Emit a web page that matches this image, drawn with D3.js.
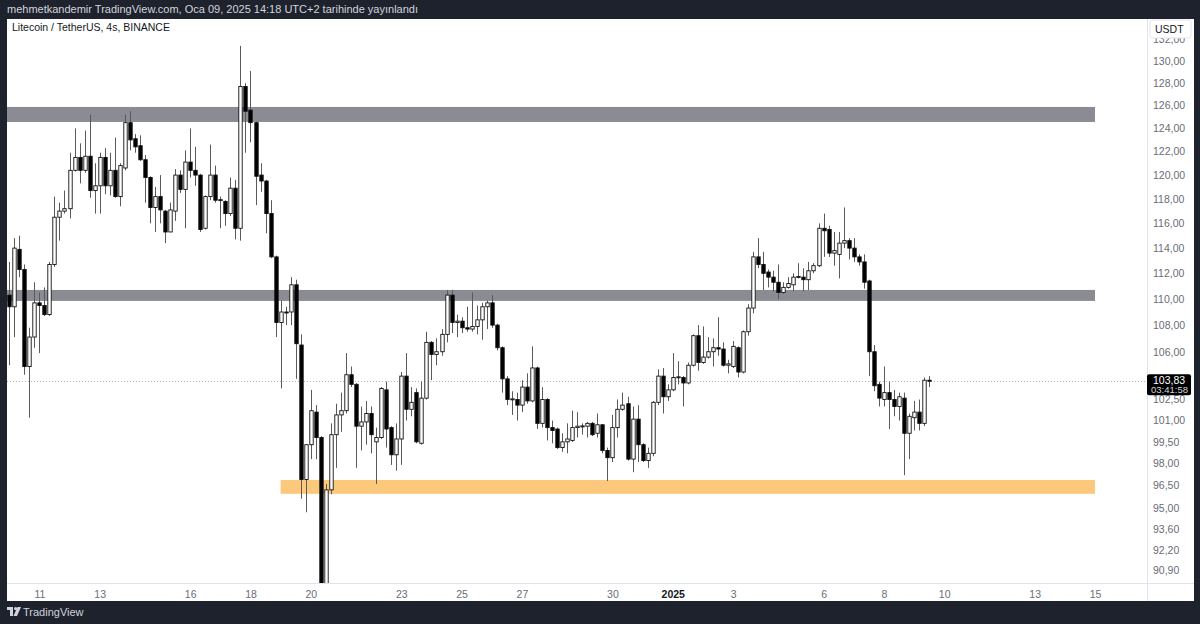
<!DOCTYPE html>
<html><head><meta charset="utf-8">
<script src="https://cdn.jsdelivr.net/npm/d3@7"></script>
<style>
body{margin:0;background:#1e222d;overflow:hidden}
svg{display:block;font-family:"Liberation Sans",Arial,sans-serif}
</style>
</head><body><svg id="c" width="1200" height="624"></svg>
<script>
// ---- data (LTC/USDT 4h, Binance) ----
const headerText = "mehmetkandemir TradingView.com, Oca 09, 2025 14:18 UTC+2 tarihinde yayınlandı";
const titleText = "Litecoin / TetherUS, 4s, BINANCE";
const firstCandleUTC = Date.UTC(2024, 11, 10, 0, 0);
const candleHours = 4;
const openP = [110.3,109.4,113.9,112.3,104.9,107.1,109.7,109.5,108.8,112.7,116.5,117.0,117.2,120.4,121.5,120.4,121.6,118.7,119.1,121.5,119.1,120.4,118.2,120.6,124.5,123.1,122.5,121.3,119.8,117.3,118.2,117.0,115.3,117.0,120.0,118.8,121.1,120.4,120.0,115.6,118.2,120.0,117.9,117.8,116.8,118.9,115.6,127.7,125.6,124.5,120.0,119.5,116.8,113.3,108.2,109.0,109.0,111.1,106.5,96.9,99.3,101.6,99.8,88.7,96.2,100.0,101.4,101.7,104.3,103.6,100.6,100.9,101.5,99.5,99.8,103.2,100.5,98.6,99.7,104.2,101.8,103.0,99.4,102.6,106.7,105.8,106.0,107.3,110.3,108.2,108.3,107.8,107.7,107.9,108.4,109.4,109.7,108.0,106.3,104.0,102.5,102.5,102.1,103.4,102.4,104.8,100.8,102.5,100.5,100.4,99.1,99.5,99.6,100.5,100.6,100.6,100.8,100.1,100.7,98.9,98.4,100.5,101.8,102.2,98.3,101.1,99.3,98.2,98.7,102.3,104.2,102.7,103.2,104.1,104.1,103.7,105.0,107.2,105.2,105.6,106.0,106.3,106.2,105.0,104.9,106.3,104.5,107.5,109.3,113.3,112.7,112.1,111.7,111.3,110.5,110.9,111.1,111.7,111.7,111.5,112.2,112.6,115.6,115.5,113.6,113.5,114.4,114.6,114.0,113.3,112.9,111.4,106.0,103.6,102.5,103.0,102.5,102.0,102.6,100.1,101.2,101.6,100.8,103.9];
const highP = [112.9,114.8,115.0,112.7,107.8,111.3,110.5,110.9,112.9,118.2,117.7,118.7,121.9,124.0,122.7,123.8,125.2,121.0,121.9,122.3,121.9,123.2,121.0,125.2,125.5,123.5,123.4,121.7,119.9,119.0,120.0,117.1,117.7,120.5,120.4,122.1,124.0,122.4,120.1,118.3,122.6,120.8,118.2,117.9,119.8,119.6,131.4,128.0,129.1,124.6,121.0,119.6,117.9,113.4,109.9,109.4,111.7,111.5,107.3,99.35,103.2,102.1,99.9,96.6,100.8,102.2,103.0,105.9,104.9,103.7,102.0,102.4,102.0,100.5,103.4,103.8,100.6,100.8,104.5,105.9,103.4,103.3,103.8,107.5,106.8,107.0,107.7,110.7,110.7,108.8,108.6,109.4,110.5,109.5,109.7,109.9,110.3,108.1,106.4,104.2,103.1,103.0,103.9,104.4,106.4,104.9,103.4,102.6,101.0,100.5,100.1,100.8,101.7,101.6,100.8,100.9,100.9,101.5,100.75,99.1,101.4,102.5,103.0,102.7,102.0,102.1,99.4,99.1,102.4,104.7,104.8,103.6,105.9,105.3,104.2,105.2,107.3,108.0,107.9,107.1,107.0,108.6,106.7,105.4,106.8,106.4,107.6,109.6,113.7,114.8,113.7,112.3,112.2,112.7,111.3,111.7,112.0,112.8,112.4,112.9,112.8,116.0,116.8,115.8,115.3,115.3,117.3,114.8,114.8,113.5,113.5,111.5,106.5,103.8,104.9,103.8,103.2,103.0,103.0,101.5,102.4,102.5,104.1,104.2];
const lowP = [105.0,107.1,111.7,104.3,101.2,106.3,105.9,108.7,108.7,112.5,114.6,116.8,116.4,120.3,119.3,120.2,118.1,116.8,116.8,118.4,118.3,118.1,117.4,120.4,122.1,121.9,121.2,117.7,116.0,115.3,116.0,114.4,115.3,116.2,118.5,115.6,119.8,119.1,115.3,115.5,117.9,117.7,115.6,115.8,116.6,114.7,114.6,121.9,122.8,117.5,118.6,115.2,113.2,107.1,103.3,108.0,108.0,104.0,95.6,94.7,98.3,98.3,88.2,88.3,95.9,97.7,100.2,101.5,103.4,97.7,98.9,99.3,98.7,96.6,99.7,99.1,97.9,97.5,97.9,101.0,101.3,99.4,99.3,102.5,103.9,105.0,105.7,106.7,107.4,107.1,107.4,107.5,107.5,107.3,106.9,107.7,107.8,106.1,103.0,102.1,101.4,101.0,101.6,102.2,102.3,100.4,100.5,99.6,99.4,99.0,98.8,98.7,99.5,99.8,100.0,99.8,99.9,99.8,98.7,96.8,98.1,99.8,101.7,98.2,97.4,98.1,98.1,97.7,98.5,102.1,101.5,102.4,103.1,103.6,102.0,103.6,104.9,104.6,105.1,105.5,104.9,105.7,104.9,104.4,104.8,104.1,104.4,107.2,108.9,112.4,110.7,110.9,110.6,110.0,110.4,110.8,110.6,111.6,110.6,110.7,112.0,112.5,113.3,113.3,112.6,111.6,114.0,113.1,112.9,112.6,110.8,104.2,103.1,102.0,102.0,100.4,101.3,101.0,97.2,98.3,100.3,100.3,100.6,103.4];
const closeP = [109.4,114.0,112.3,104.9,107.1,109.7,109.5,108.8,112.7,116.5,117.0,117.2,120.4,121.5,120.4,121.6,118.7,119.1,121.5,119.1,120.4,118.2,120.8,124.5,123.0,122.4,121.3,119.8,117.3,118.2,117.1,115.3,117.1,120.0,118.8,121.1,120.4,120.0,115.5,118.2,120.0,117.9,117.95,116.8,118.9,115.6,127.7,125.5,124.5,119.9,119.5,116.8,113.3,108.2,109.0,108.95,111.1,106.6,96.9,99.3,101.7,99.8,88.7,96.2,100.0,101.4,101.7,104.3,103.6,100.6,100.9,101.5,100.0,99.8,103.3,100.4,98.6,99.7,104.2,101.8,102.3,99.5,102.6,106.7,105.8,106.0,107.3,110.3,108.2,108.3,107.8,107.7,107.9,108.4,109.4,109.7,108.0,106.3,104.0,102.5,102.55,102.1,103.4,102.4,104.8,100.8,102.5,100.5,100.3,99.1,99.5,99.7,100.5,100.6,100.62,100.8,100.0,100.7,98.9,98.4,100.5,101.8,102.1,98.3,101.1,99.3,98.2,98.7,102.3,104.2,102.7,103.2,104.1,104.15,103.7,105.0,107.2,105.2,105.6,106.0,106.3,106.2,105.0,105.1,106.4,104.5,107.5,109.3,113.3,112.7,112.0,111.7,111.3,110.5,110.9,111.2,111.7,111.75,111.5,112.2,112.6,115.6,115.4,113.6,113.8,114.4,114.6,114.0,113.3,112.9,111.3,106.0,103.5,102.6,103.0,102.5,102.0,102.7,100.1,101.3,101.6,100.8,103.9,103.83];
const currentPrice = 103.83;
const countdownText = "03:41:58";
const priceTicks = [132,130,128,126,124,122,120,118,116,114,112,110,108,106,102.5,101,99.5,98,96.5,95,93.6,92.2,90.9];
const dateTicks = ["2024-12-11","2024-12-13","2024-12-16","2024-12-18","2024-12-20","2024-12-23","2024-12-25","2024-12-27","2024-12-30","2025-01-01","2025-01-03","2025-01-06","2025-01-08","2025-01-10","2025-01-13","2025-01-15"];
const dateTickLabels = ["11","13","16","18","20","23","25","27","30","2025","3","6","8","10","13","15"];
const zoneLow = [124.56, 109.85, 95.93];
const zoneHigh = [125.88, 110.70, 96.87];
const zoneStart = ["2024-12-05","2024-12-05","2024-12-19"];
const zoneEnd = ["2025-01-15","2025-01-15","2025-01-15"];
const zoneColor = ["#8b8b93","#8b8b93","#fcc97c"];

// ---- layout ----
const W = 1200, H = 624;
const panel = {x:7, y:19, w:1187, h:582};
const plotRight = 1147, plotBottom = 583;
const svg = d3.select("#c");

const x = d3.scaleUtc()
  .domain([firstCandleUTC, Date.UTC(2025,0,15)])
  .range([9.2, 1095]);
const y = d3.scaleLog().domain([90.11, 133.9]).range([plotBottom, panel.y]);

svg.append("rect").attr("width",W).attr("height",H).attr("fill","#1e222d");
svg.append("text").attr("x",7).attr("y",13).attr("fill","#d1d4dc")
  .attr("font-size",11).text(headerText);
svg.append("rect").attr("x",panel.x).attr("y",panel.y).attr("width",panel.w).attr("height",panel.h).attr("fill","#fff");

svg.append("defs").append("clipPath").attr("id","plot")
  .append("rect").attr("x",panel.x).attr("y",panel.y).attr("width",plotRight-panel.x).attr("height",plotBottom-panel.y);

const g = svg.append("g").attr("clip-path","url(#plot)");

// zones
const parseD = s => new Date(s + "T00:00:00Z");
g.selectAll("rect.zone").data(zoneLow).join("rect").attr("class","zone")
  .attr("x",(d,i)=>x(parseD(zoneStart[i])))
  .attr("width",(d,i)=>x(parseD(zoneEnd[i]))-x(parseD(zoneStart[i])))
  .attr("y",(d,i)=>y(zoneHigh[i]))
  .attr("height",(d,i)=>y(zoneLow[i])-y(zoneHigh[i]))
  .attr("fill",(d,i)=>zoneColor[i]);

// current price dotted line
g.append("line").attr("x1",panel.x).attr("x2",plotRight)
  .attr("y1",Math.round(y(currentPrice))+0.5).attr("y2",Math.round(y(currentPrice))+0.5)
  .attr("stroke","#b2b5be").attr("stroke-dasharray","1,2");

// candles
const candles = openP.map((o,i)=>({t:new Date(firstCandleUTC + i*candleHours*3600e3), o, h:highP[i], l:lowP[i], c:closeP[i]}));
const bw = 3.4;
const cg = g.selectAll("g.c").data(candles).join("g").attr("class","c");
cg.append("line")
  .attr("x1",d=>Math.round(x(d.t))+0.5).attr("x2",d=>Math.round(x(d.t))+0.5)
  .attr("y1",d=>y(d.h)).attr("y2",d=>y(d.l))
  .attr("stroke","#5a5a5a").attr("stroke-width",1);
cg.append("rect")
  .attr("x",d=>Math.round(x(d.t))+0.5-bw/2)
  .attr("width",bw)
  .attr("y",d=>y(Math.max(d.o,d.c)))
  .attr("height",d=>Math.max(1,Math.abs(y(d.o)-y(d.c))))
  .attr("fill",d=>d.c>=d.o?"#fff":"#000")
  .attr("stroke","#111").attr("stroke-width",0.9);

// axes frame
svg.append("line").attr("x1",plotRight+0.5).attr("x2",plotRight+0.5).attr("y1",panel.y).attr("y2",panel.y+panel.h).attr("stroke","#e0e3eb");
svg.append("line").attr("x1",panel.x).attr("x2",panel.x+panel.w).attr("y1",plotBottom+0.5).attr("y2",plotBottom+0.5).attr("stroke","#e0e3eb");

// price axis
const fmt = v => d3.format(".2f")(v).replace(".",",");
const yAxis = d3.axisRight(y).tickValues(priceTicks).tickFormat(fmt).tickSize(0).tickPadding(6);
const ya = svg.append("g").attr("transform",`translate(${plotRight},0)`).call(yAxis);
ya.select(".domain").remove();
ya.selectAll("text").attr("fill","#6a6d78").attr("font-size",10.5).attr("font-family","Liberation Sans, Arial, sans-serif");

// USDT box
svg.append("rect").attr("x",1150).attr("y",20).attr("width",41).attr("height",18).attr("rx",2)
  .attr("fill","#fff").attr("stroke","#e0e3eb");
svg.append("text").attr("x",1155).attr("y",33).attr("font-size",10.5).attr("fill","#131722").text("USDT");

// current price label
const cy = y(currentPrice);
svg.append("rect").attr("x",plotRight).attr("y",cy-7).attr("width",44).attr("height",21).attr("rx",2).attr("fill","#000");
svg.append("text").attr("x",plotRight+6).attr("y",cy+3).attr("font-size",10.5).attr("fill","#fff").text(fmt(currentPrice));
svg.append("text").attr("x",plotRight+4).attr("y",cy+12).attr("font-size",9.5).attr("fill","#d1d4dc").text(countdownText);

// time axis
const xAxis = d3.axisBottom(x).tickValues(dateTicks.map(parseD))
  .tickFormat((d,i)=>dateTickLabels[i]).tickSize(0).tickPadding(8);
const xa = svg.append("g").attr("transform",`translate(0,${plotBottom})`).call(xAxis);
xa.select(".domain").remove();
xa.selectAll("text").attr("font-size",10.5).attr("font-family","Liberation Sans, Arial, sans-serif")
  .attr("font-weight",(d,i)=>dateTickLabels[i]==="2025"?"bold":null)
  .attr("fill",(d,i)=>dateTickLabels[i]==="2025"?"#131722":"#6a6d78");

// title
svg.append("text").attr("x",12).attr("y",31).attr("font-size",10.5).attr("fill","#131722").text(titleText);

// footer logo
const lg = svg.append("g").attr("transform","translate(7,607)").attr("fill","#d1d4dc");
lg.append("rect").attr("x",0).attr("y",0).attr("width",6).attr("height",3);
lg.append("rect").attr("x",3).attr("y",0).attr("width",3).attr("height",9);
lg.append("circle").attr("cx",8.6).attr("cy",1.6).attr("r",1.6);
lg.append("path").attr("d","M10.5 0 H14 L10 9 H6.5 Z");
svg.append("text").attr("x",23).attr("y",616).attr("font-size",11).attr("fill","#d1d4dc").text("TradingView");
</script>
</body></html>
